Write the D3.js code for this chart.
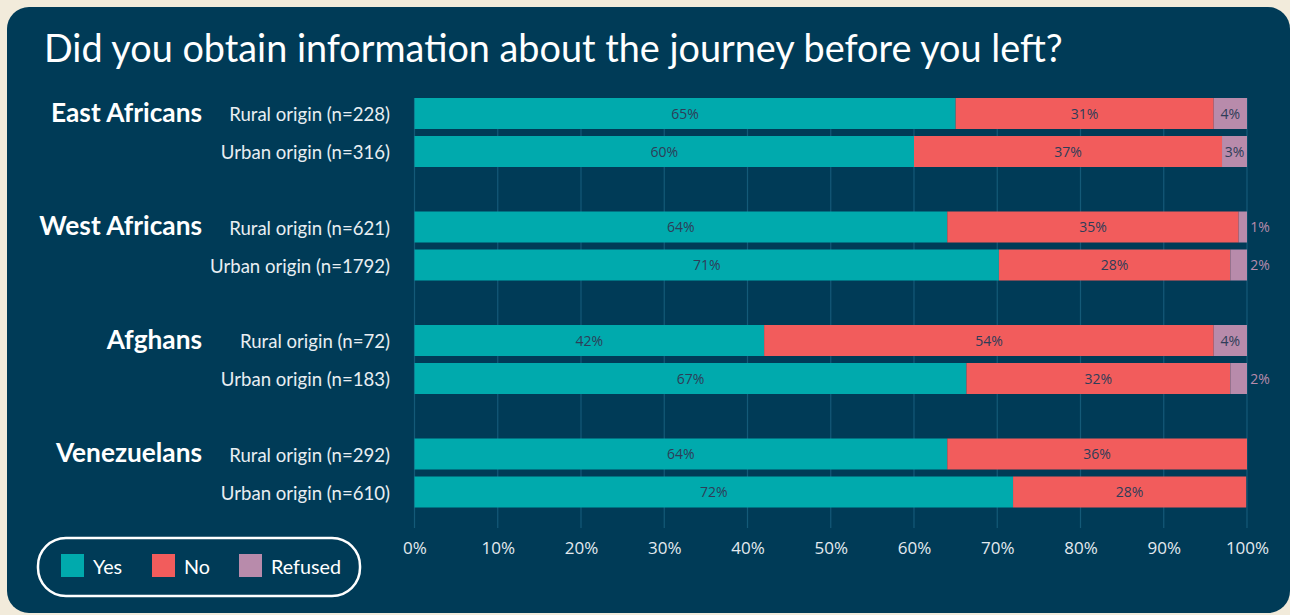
<!DOCTYPE html>
<html><head><meta charset="utf-8">
<script src="https://cdn.jsdelivr.net/npm/d3@7"></script>
<style>
html,body{margin:0;padding:0;background:#f2ebdb;}
svg{display:block;}
</style></head>
<body>
<svg id="chart" width="1290" height="615"></svg>
<script>
const title = "Did you obtain information about the journey before you left?";
const groups = ["East Africans", "West Africans", "Afghans", "Venezuelans"];
const rowLabels = [
  ["Rural origin (n=228)", "Urban origin (n=316)"],
  ["Rural origin (n=621)", "Urban origin (n=1792)"],
  ["Rural origin (n=72)", "Urban origin (n=183)"],
  ["Rural origin (n=292)", "Urban origin (n=610)"]
];
const seriesNames = ["Yes", "No", "Refused"];
const yesValues     = [65, 60, 64, 70.2, 42, 66.3, 64, 71.9];
const noValues      = [31, 37, 35, 27.8, 54, 31.7, 36, 28];
const refusedValues = [4, 3, 1, 2, 4, 2, 0, 0];
const yesLabels     = ["65%", "60%", "64%", "71%", "42%", "67%", "64%", "72%"];
const noLabels      = ["31%", "37%", "35%", "28%", "54%", "32%", "36%", "28%"];
const refusedLabels = ["4%", "3%", "1%", "2%", "4%", "2%", "", ""];
const tickValues = [0, 10, 20, 30, 40, 50, 60, 70, 80, 90, 100];

const colors = {Yes: "#00aaad", No: "#f25c5c", Refused: "#b88bab"};
const panelColor = "#003b57";
const FONT = "Lato, 'Noto Sans', sans-serif";

const svg = d3.select("#chart");

// font-size that makes a sample string a given width
function fitSize(sample, targetW, weight) {
  const tmp = svg.append("text").style("font-family", FONT).style("font-weight", weight)
    .style("font-size", "20px").text(sample);
  const w = tmp.node().getComputedTextLength();
  tmp.remove();
  return 20 * targetW / w;
}

// panel
svg.append("rect").attr("x", 7).attr("y", 7).attr("width", 1283).attr("height", 606)
  .attr("rx", 22).attr("fill", panelColor);

// title
const titleSize = fitSize(title, 1019, 400);
svg.append("text").attr("x", 44).attr("y", 62)
  .attr("fill", "#ffffff").style("font-family", FONT)
  .style("font-weight", 400).style("font-size", titleSize + "px").text(title);

// scales
const x = d3.scaleLinear().domain([0, 100]).range([414.5, 1247]);
const yGroup = d3.scaleBand().domain(groups).range([98, 552]).padding(0);
const yRow = d3.scaleBand().domain([0, 1]).range([0, 69]).paddingInner(7 / 38).paddingOuter(0);

// rows data
const rows = [];
groups.forEach((g, gi) => {
  [0, 1].forEach(ri => {
    const i = gi * 2 + ri;
    rows.push({g, ri, i, label: rowLabels[gi][ri],
      vals: [yesValues[i], noValues[i], refusedValues[i]],
      labs: [yesLabels[i], noLabels[i], refusedLabels[i]]});
  });
});
const rowY = r => yGroup(r.g) + yRow(r.ri);
const bh = yRow.bandwidth();

// gridlines
svg.append("g").selectAll("line").data(tickValues).join("line")
  .attr("x1", d => x(d)).attr("x2", d => x(d))
  .attr("y1", 98).attr("y2", 528)
  .attr("stroke", "#145a78").attr("stroke-width", 1.2);

// axis
const axis = svg.append("g").attr("transform", "translate(0,528)")
  .call(d3.axisBottom(x).tickValues(tickValues).tickFormat(d => d + "%").tickSize(0).tickPadding(14));
axis.select(".domain").remove();
axis.selectAll("text").attr("fill", "#e3eaef")
  .style("font-family", "'Open Sans', sans-serif").style("font-size", "17px");

// bars
const barG = svg.append("g");
rows.forEach(r => {
  let cum = 0;
  r.vals.forEach((v, si) => {
    const x0 = cum, x1 = cum + v;
    cum = x1;
    if (v <= 0) return;
    barG.append("rect")
      .attr("x", x(x0)).attr("y", rowY(r)).attr("width", x(x1) - x(x0)).attr("height", bh)
      .attr("fill", colors[seriesNames[si]]);
    const lab = r.labs[si];
    if (!lab) return;
    const inside = v >= 3;
    barG.append("text")
      .attr("x", inside ? (x(x0) + x(x1)) / 2 : x(x1) + 13)
      .attr("y", rowY(r) + bh / 2 + 1.5)
      .attr("text-anchor", "middle").attr("dominant-baseline", "middle")
      .attr("fill", inside ? "#2e3d58" : "#b88bab")
      .style("font-family", "'Open Sans', sans-serif").style("font-size", "14px")
      .text(lab);
  });
});

// row labels
const rowSize = fitSize("Rural origin (n=228)", 161, 400);
svg.append("g").selectAll("text").data(rows).join("text")
  .attr("x", 390).attr("y", d => rowY(d) + bh / 2 + 3)
  .attr("text-anchor", "end").attr("dominant-baseline", "middle")
  .attr("fill", "#e8eef2").style("font-family", FONT).style("font-size", rowSize + "px")
  .text(d => d.label);

// group labels
const groupSize = fitSize("East Africans", 151, 700);
svg.append("g").selectAll("text").data(groups).join("text")
  .attr("x", 202).attr("y", g => yGroup(g) + yRow(0) + bh / 2 + 1.5)
  .attr("text-anchor", "end").attr("dominant-baseline", "middle")
  .attr("fill", "#ffffff").style("font-family", FONT).style("font-weight", 700)
  .style("font-size", groupSize + "px").text(g => g);

// legend
const leg = svg.append("g");
leg.append("rect").attr("x", 38).attr("y", 538).attr("width", 322).attr("height", 58)
  .attr("rx", 28).attr("fill", "none").attr("stroke", "#ffffff").attr("stroke-width", 2.5);
const legX = [61, 152, 239];
const legSize = fitSize("Refused", 70, 400);
seriesNames.forEach((s, i) => {
  leg.append("rect").attr("x", legX[i]).attr("y", 554).attr("width", 23).attr("height", 23)
    .attr("fill", colors[s]);
  leg.append("text").attr("x", legX[i] + 32).attr("y", 568.5)
    .attr("dominant-baseline", "middle").attr("fill", "#ffffff")
    .style("font-family", FONT).style("font-size", legSize + "px").text(s);
});
</script>
</body></html>
